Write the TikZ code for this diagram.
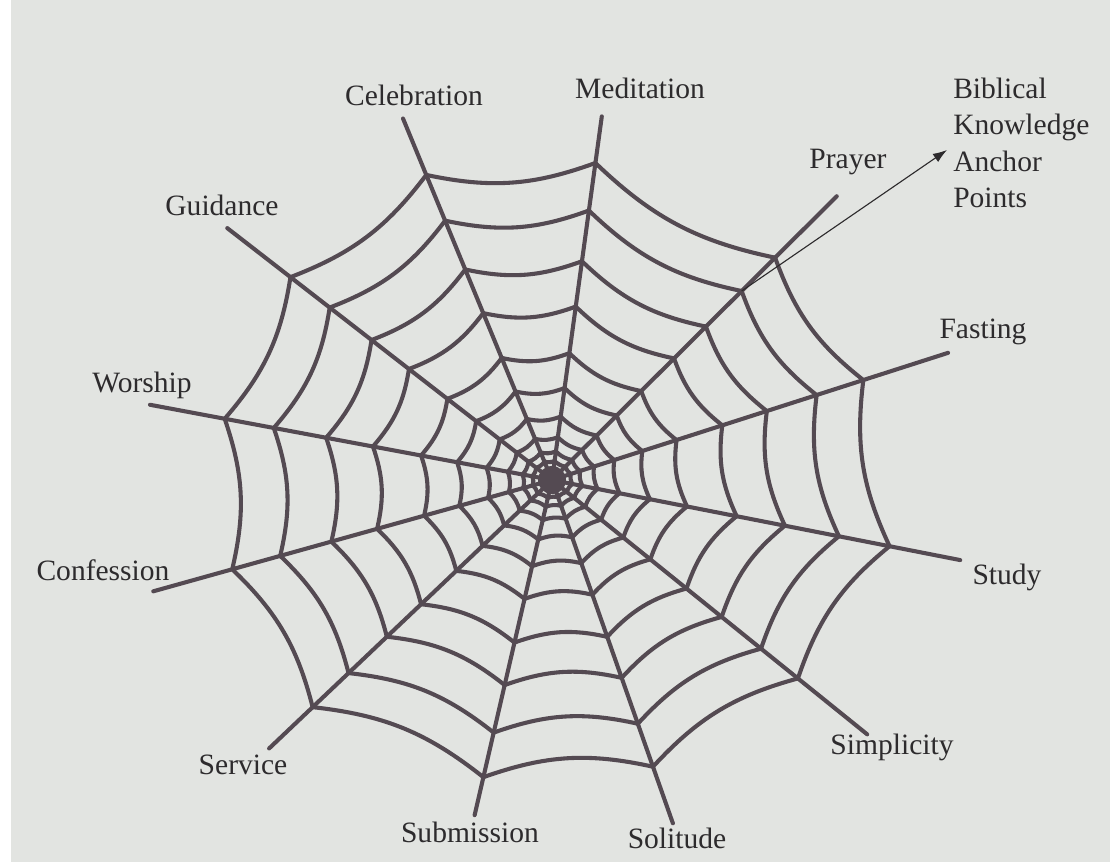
\documentclass[tikz,border=0pt]{standalone}
\usepackage{fontspec}
\setmainfont{Liberation Serif}
\usetikzlibrary{arrows.meta}
\definecolor{webgray}{RGB}{84,74,82}
\definecolor{paper}{RGB}{226,228,225}
\definecolor{ink}{RGB}{45,43,45}
\tikzset{
    thread/.style={webgray,line width=2.9pt,line cap=round,line join=round},
    discipline/.style={font=\fontsize{21}{26}\selectfont,text=ink,inner sep=0pt},
}
\begin{document}
\begin{tikzpicture}[x=0.025cm,y=0.025cm]
                % Paper
                \fill[paper] (-552,-382) rectangle (558,480);
                \fill[white] (-552,-382) rectangle (-541,480);
                \useasboundingbox (-552,-382) rectangle (558,480);

                % Spokes: number / angle / outer ring / length
                \foreach \i/\a/\R/\L in {1/17.8/327/416, 2/44.9/315/402, 3/82.2/320/367,
                        4/112.4/330/391, 5/142.2/331/411, 6/169.4/333/409,
                        7/195.6/332/414, 8/223.5/330/390, 9/257.0/305/344,
                        10/289.4/304/364, 11/321.1/316/405, 12/348.9/344/416} {
                    \coordinate (s\i) at ({\a}:{\L});
                    \foreach \k/\f in {1/1,2/0.85,3/0.69,4/0.547,5/0.40,6/0.29,7/0.20,8/0.135,9/0.09,10/0.06}
                        \coordinate (p\i-\k) at ({\a}:{\f*\R});
                }

                \foreach \i in {1,...,12}
                    \draw[thread] (0,0) -- (s\i);

                % Rings of the web
                \foreach \k in {1,...,10} {
                    \foreach \i in {1,...,12} {
                        \pgfmathtruncatemacro{\j}{mod(\i,12)+1}
                        \draw[thread] (p\i-\k) to[bend left=16] (p\j-\k);
                    }
                }

                \fill[webgray] (0,0) circle (14);

                % Disciplines
                \node[discipline] (fasting) at (431,148) {Fasting};
                \node[discipline] (prayer) at (296,318) {Prayer};
                \node[discipline] (meditation) at (88,392) {Meditation};
                \node[discipline] (celebration) at (-138,385) {Celebration};
                \node[discipline] (guidance) at (-330,275) {Guidance};
                \node[discipline] (worship) at (-410,95) {Worship};
                \node[discipline] (confession) at (-449,-90) {Confession};
                \node[discipline] (service) at (-309,-285) {Service};
                \node[discipline] (submission) at (-82,-352) {Submission};
                \node[discipline] (solitude) at (125,-358) {Solitude};
                \node[discipline] (simplicity) at (340,-267) {Simplicity};
                \node[discipline] (study) at (455,-97) {Study};

                % Anchor points
                \node[discipline,align=left,anchor=west] (knowledge) at (401,337) {Biblical\\Knowledge\\Anchor\\Points};
                \coordinate (tip) at (395,330);
                \draw[ink,line width=0.8pt,-{Latex[length=10pt,width=7pt]}] (p2-2) -- (tip);
\end{tikzpicture}
\end{document}
